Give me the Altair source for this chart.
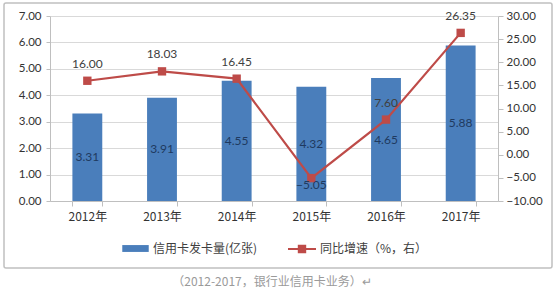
import altair as alt
import pandas as pd

years = ["2012年", "2013年", "2014年", "2015年", "2016年", "2017年"]
cards = [3.31, 3.91, 4.55, 4.32, 4.65, 5.88]
growth = [16.00, 18.03, 16.45, -5.05, 7.60, 26.35]
bar_name = "信用卡发卡量(亿张)"
line_name = "同比增速（%，右）"
caption = "（2012-2017，银行业信用卡业务）↵"
left_ticks = [0, 1, 2, 3, 4, 5, 6, 7]
right_ticks = [-10, -5, 0, 5, 10, 15, 20, 25, 30]

df = pd.DataFrame({"year": years, "cards": cards, "growth": growth,
                   "bs": [bar_name] * 6, "ls": [line_name] * 6})
df["mid"] = df["cards"] / 2

BLUE = "#4a7ebb"
RED = "#be4b48"
NUM_FONT = "Lato"
CJK = "Noto Sans CJK SC"

x_axis = alt.Axis(tickBand="extent", ticks=True, tickSize=5, tickColor="#bfbfbf",
                  domainColor="#bfbfbf", labelFont=CJK, labelFontSize=12,
                  labelColor="#333333", labelPadding=5, labelAngle=0, grid=False)
x_scale = alt.Scale(paddingInner=0.6, paddingOuter=0.3)

def X():
    return alt.X("year:N", sort=years, title=None, scale=x_scale, axis=x_axis)

l_axis = alt.Axis(values=left_ticks, format=".2f", grid=True, gridColor="#d9d9d9",
                  domainColor="#bfbfbf", tickColor="#bfbfbf", tickSize=4,
                  labelFont=NUM_FONT, labelFontSize=11.5, labelColor="#333333",
                  labelPadding=5, labelOverlap=False, tickCount=8)
l_scale = alt.Scale(domain=[0, 7], nice=False)

r_axis = alt.Axis(orient="right", values=right_ticks, format=".2f", grid=False,
                  domainColor="#bfbfbf", tickColor="#bfbfbf", tickSize=5,
                  labelFont=NUM_FONT, labelFontSize=11.5, labelColor="#333333",
                  labelPadding=3, labelOverlap=False, tickCount=9)
r_scale = alt.Scale(domain=[-10, 30], nice=False)

base = alt.Chart(df)

bars = base.mark_bar(color=BLUE).encode(
    x=X(), y=alt.Y("cards:Q", title=None, scale=l_scale, axis=l_axis),
    color=alt.Color("bs:N", scale=alt.Scale(range=[BLUE]), title=None,
                    legend=alt.Legend(orient="none", legendX=72, legendY=219,
                                      symbolType="M-1,-0.26H1V0.26H-1Z", symbolSize=700,
                                      symbolStrokeWidth=0, labelFont=CJK, labelFontSize=12,
                                      labelColor="#404040", labelOffset=4, padding=0)))

bar_text = base.mark_text(font=NUM_FONT, fontSize=12, color="#1f3a60").encode(
    x=X(), y=alt.Y("mid:Q", title=None, scale=l_scale, axis=l_axis),
    text=alt.Text("cards:Q", format=".2f"))

left = alt.layer(bars, bar_text)

def YR():
    return alt.Y("growth:Q", title=None, scale=r_scale, axis=r_axis)

line = base.mark_line(color=RED, strokeWidth=2.2).encode(x=X(), y=YR())
pts = base.mark_point(shape="square", filled=True, size=70, opacity=1).encode(
    x=X(), y=YR(),
    color=alt.Color("ls:N", scale=alt.Scale(range=[RED]), title=None,
                    legend=alt.Legend(orient="none", legendX=238, legendY=219,
                                      symbolType="M-1,-0.07H1V0.07H-1Z M-0.3,-0.3H0.3V0.3H-0.3Z",
                                      symbolSize=784, symbolStrokeWidth=0,
                                      labelFont=CJK, labelFontSize=12,
                                      labelColor="#404040", labelOffset=4, padding=0)))
txt_pos = base.mark_text(font=NUM_FONT, fontSize=12, color="#404040", dy=-17).encode(
    x=X(), y=YR(),
    text=alt.Text("growth:Q", format=".2f")).transform_filter("datum.growth >= 0")
txt_neg = base.mark_text(font=NUM_FONT, fontSize=12, color="#1f3a60", dy=7).encode(
    x=X(), y=YR(),
    text=alt.Text("growth:Q", format=".2f")).transform_filter("datum.growth < 0")

right = alt.layer(line, pts, txt_pos, txt_neg)

deco = alt.Chart(pd.DataFrame({"t": [caption]}))
frame = deco.mark_rect(
    fill=None, stroke="#c0c0c0", strokeWidth=1.5, cornerRadius=2).encode(
    x=alt.value(-46), x2=alt.value(502), y=alt.value(-13), y2=alt.value(252))
cap = deco.mark_text(fontSize=12, color="#9a9a9a", font=CJK, align="center",
                     baseline="middle").encode(
    x=alt.value(222), y=alt.value(266), text="t:N")

chart = alt.layer(frame, cap, left, right).resolve_scale(
    y="independent", color="independent").properties(
    width=448, height=185,
    padding={"left": 50, "top": 16, "right": 56, "bottom": 93},
    autosize=alt.AutoSizeParams(type="none"),
    background="white",
).configure_view(stroke=None)

chart.save("out.html", embed_options={"renderer": "svg", "actions": False})
